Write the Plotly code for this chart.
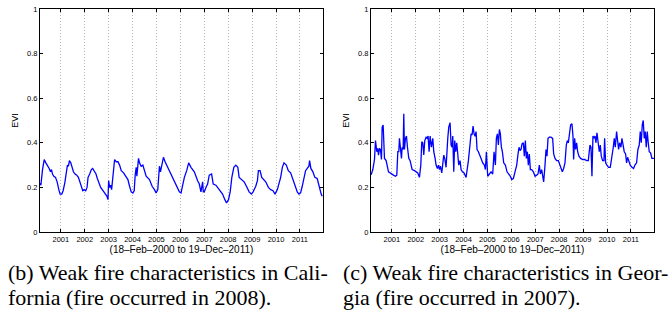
import plotly.graph_objects as go

# ---- data (decimal year, EVI) ----
ca_t = [2000.125, 2000.167, 2000.236, 2000.306, 2000.375, 2000.444, 2000.514, 2000.569, 2000.611, 2000.653,
        2000.708, 2000.778, 2000.847, 2000.917, 2000.972, 2001.042, 2001.097, 2001.167, 2001.236, 2001.278,
        2001.319, 2001.361, 2001.417, 2001.472, 2001.528, 2001.597, 2001.667, 2001.736, 2001.806, 2001.861,
        2001.917, 2001.972, 2002.042, 2002.097, 2002.139, 2002.208, 2002.278, 2002.333, 2002.403, 2002.472,
        2002.528, 2002.597, 2002.667, 2002.764, 2002.861, 2002.931, 2002.972, 2003.000, 2003.042, 2003.083,
        2003.125, 2003.181, 2003.250, 2003.319, 2003.389, 2003.458, 2003.528, 2003.625, 2003.708, 2003.806,
        2003.875, 2003.944, 2004.014, 2004.069, 2004.111, 2004.153, 2004.181, 2004.250, 2004.292, 2004.361,
        2004.431, 2004.500, 2004.569, 2004.708, 2004.819, 2004.917, 2004.986, 2005.056, 2005.097, 2005.125,
        2005.167, 2005.222, 2005.292, 2005.361, 2005.472, 2005.611, 2005.750, 2005.889, 2005.958, 2006.028,
        2006.097, 2006.167, 2006.264, 2006.347, 2006.444, 2006.583, 2006.722, 2006.792, 2006.861, 2006.889,
        2006.931, 2006.958, 2007.000, 2007.069, 2007.139, 2007.208, 2007.306, 2007.375, 2007.486, 2007.625,
        2007.764, 2007.861, 2007.931, 2008.014, 2008.083, 2008.153, 2008.236, 2008.319, 2008.403, 2008.458,
        2008.569, 2008.667, 2008.764, 2008.875, 2008.972, 2009.042, 2009.153, 2009.222, 2009.264, 2009.333,
        2009.403, 2009.500, 2009.569, 2009.681, 2009.778, 2009.875, 2009.958, 2010.056, 2010.125, 2010.194,
        2010.264, 2010.333, 2010.431, 2010.514, 2010.611, 2010.708, 2010.792, 2010.889, 2010.958, 2011.028,
        2011.097, 2011.167, 2011.236, 2011.306, 2011.375, 2011.403, 2011.458, 2011.542, 2011.625, 2011.722,
        2011.764, 2011.819, 2011.889, 2011.931]
ca_evi = [0.22, 0.21, 0.28, 0.325, 0.31, 0.30, 0.285, 0.27, 0.28, 0.26,
          0.25, 0.245, 0.225, 0.19, 0.17, 0.17, 0.185, 0.22, 0.26, 0.30,
          0.295, 0.32, 0.31, 0.285, 0.27, 0.26, 0.255, 0.245, 0.225, 0.20,
          0.185, 0.19, 0.185, 0.20, 0.245, 0.26, 0.28, 0.285, 0.275, 0.26,
          0.24, 0.22, 0.20, 0.185, 0.17, 0.16, 0.145, 0.23, 0.20, 0.21,
          0.19, 0.265, 0.325, 0.315, 0.315, 0.30, 0.275, 0.265, 0.25, 0.235,
          0.205, 0.18, 0.175, 0.185, 0.255, 0.29, 0.25, 0.33, 0.31, 0.295,
          0.30, 0.27, 0.25, 0.235, 0.205, 0.19, 0.175, 0.19, 0.245, 0.295,
          0.27, 0.30, 0.335, 0.315, 0.29, 0.26, 0.23, 0.195, 0.18, 0.175,
          0.215, 0.245, 0.275, 0.31, 0.29, 0.27, 0.23, 0.215, 0.18, 0.195,
          0.225, 0.18, 0.18, 0.20, 0.215, 0.255, 0.26, 0.215, 0.21, 0.19,
          0.17, 0.145, 0.13, 0.145, 0.18, 0.245, 0.29, 0.30, 0.29, 0.245,
          0.235, 0.225, 0.205, 0.18, 0.17, 0.18, 0.205, 0.23, 0.275, 0.275,
          0.245, 0.235, 0.225, 0.20, 0.19, 0.185, 0.17, 0.19, 0.22, 0.245,
          0.29, 0.31, 0.30, 0.275, 0.265, 0.235, 0.20, 0.18, 0.17, 0.175,
          0.205, 0.235, 0.275, 0.285, 0.295, 0.32, 0.285, 0.27, 0.245, 0.24,
          0.22, 0.195, 0.17, 0.16]

ga_t = [2000.136, 2000.206, 2000.276, 2000.318, 2000.373, 2000.415, 2000.443, 2000.485, 2000.526, 2000.568,
        2000.596, 2000.638, 2000.694, 2000.763, 2000.861, 2000.972, 2001.070, 2001.153, 2001.209, 2001.251,
        2001.292, 2001.320, 2001.362, 2001.404, 2001.432, 2001.474, 2001.501, 2001.529, 2001.571, 2001.613,
        2001.655, 2001.710, 2001.766, 2001.850, 2001.947, 2002.017, 2002.086, 2002.156, 2002.212, 2002.253,
        2002.295, 2002.337, 2002.379, 2002.435, 2002.476, 2002.518, 2002.560, 2002.602, 2002.657, 2002.713,
        2002.755, 2002.811, 2002.852, 2002.908, 2002.950, 2002.992, 2003.033, 2003.089, 2003.131, 2003.173,
        2003.214, 2003.270, 2003.340, 2003.382, 2003.437, 2003.479, 2003.521, 2003.549, 2003.591, 2003.632,
        2003.674, 2003.716, 2003.758, 2003.799, 2003.855, 2003.897, 2003.953, 2004.022, 2004.106, 2004.162,
        2004.203, 2004.259, 2004.315, 2004.357, 2004.398, 2004.440, 2004.482, 2004.524, 2004.565, 2004.621,
        2004.663, 2004.733, 2004.802, 2004.872, 2004.914, 2004.955, 2005.011, 2005.081, 2005.150, 2005.220,
        2005.276, 2005.332, 2005.373, 2005.415, 2005.457, 2005.499, 2005.540, 2005.582, 2005.624, 2005.680,
        2005.749, 2005.819, 2005.889, 2005.958, 2006.014, 2006.084, 2006.153, 2006.223, 2006.279, 2006.320,
        2006.362, 2006.404, 2006.446, 2006.501, 2006.543, 2006.585, 2006.627, 2006.669, 2006.710, 2006.752,
        2006.794, 2006.850, 2006.919, 2006.989, 2007.058, 2007.114, 2007.170, 2007.212, 2007.267, 2007.309,
        2007.351, 2007.407, 2007.448, 2007.490, 2007.532, 2007.588, 2007.657, 2007.727, 2007.769, 2007.825,
        2007.894, 2007.964, 2008.020, 2008.075, 2008.131, 2008.187, 2008.242, 2008.298, 2008.340, 2008.382,
        2008.423, 2008.479, 2008.535, 2008.577, 2008.604, 2008.646, 2008.688, 2008.730, 2008.772, 2008.827,
        2008.897, 2008.981, 2009.064, 2009.148, 2009.217, 2009.287, 2009.329, 2009.370, 2009.412, 2009.454,
        2009.496, 2009.538, 2009.579, 2009.621, 2009.677, 2009.719, 2009.760, 2009.816, 2009.872, 2009.900,
        2009.942, 2009.997, 2010.067, 2010.136, 2010.206, 2010.262, 2010.304, 2010.345, 2010.401, 2010.443,
        2010.485, 2010.526, 2010.582, 2010.624, 2010.666, 2010.721, 2010.777, 2010.819, 2010.861, 2010.903,
        2010.972, 2011.042, 2011.111, 2011.167, 2011.237, 2011.292, 2011.348, 2011.390, 2011.432, 2011.474,
        2011.515, 2011.557, 2011.599, 2011.641, 2011.682, 2011.724, 2011.766, 2011.822, 2011.877, 2011.965]
ga_evi = [0.257, 0.28, 0.325, 0.41, 0.36, 0.375, 0.345, 0.375, 0.37, 0.325,
          0.47, 0.48, 0.33, 0.32, 0.27, 0.26, 0.255, 0.25, 0.255, 0.36,
          0.36, 0.42, 0.38, 0.33, 0.38, 0.37, 0.53, 0.37, 0.42, 0.43,
          0.38, 0.33, 0.32, 0.28, 0.275, 0.27, 0.265, 0.245, 0.30, 0.405,
          0.40, 0.345, 0.41, 0.425, 0.42, 0.43, 0.36, 0.43, 0.38, 0.42,
          0.36, 0.33, 0.30, 0.285, 0.30, 0.28, 0.295, 0.265, 0.30, 0.345,
          0.33, 0.29, 0.42, 0.47, 0.49, 0.39, 0.38, 0.43, 0.27, 0.41,
          0.36, 0.40, 0.35, 0.30, 0.32, 0.28, 0.27, 0.265, 0.245, 0.28,
          0.32, 0.38, 0.44, 0.435, 0.475, 0.44, 0.43, 0.45, 0.37, 0.36,
          0.345, 0.33, 0.31, 0.30, 0.28, 0.36, 0.25, 0.26, 0.27, 0.26,
          0.36, 0.30, 0.42, 0.44, 0.39, 0.46, 0.44, 0.38, 0.36, 0.31,
          0.30, 0.27, 0.26, 0.25, 0.235, 0.24, 0.27, 0.30, 0.35, 0.38,
          0.365, 0.37, 0.395, 0.40, 0.34, 0.41, 0.33, 0.36, 0.30, 0.35,
          0.28, 0.28, 0.27, 0.25, 0.255, 0.26, 0.30, 0.26, 0.28, 0.25,
          0.225, 0.30, 0.37, 0.34, 0.42, 0.425, 0.425, 0.42, 0.35, 0.33,
          0.32, 0.32, 0.30, 0.29, 0.27, 0.285, 0.31, 0.39, 0.41, 0.40,
          0.44, 0.48, 0.485, 0.43, 0.325, 0.42, 0.37, 0.40, 0.36, 0.34,
          0.33, 0.325, 0.325, 0.32, 0.32, 0.39, 0.38, 0.25, 0.43, 0.42,
          0.43, 0.40, 0.445, 0.41, 0.36, 0.39, 0.34, 0.32, 0.32, 0.42,
          0.31, 0.30, 0.29, 0.29, 0.33, 0.38, 0.42, 0.38, 0.45, 0.40,
          0.37, 0.40, 0.38, 0.42, 0.385, 0.36, 0.35, 0.31, 0.335, 0.32,
          0.30, 0.29, 0.285, 0.30, 0.31, 0.37, 0.39, 0.45, 0.40, 0.48,
          0.50, 0.42, 0.45, 0.38, 0.45, 0.40, 0.36, 0.355, 0.33, 0.33]

year_ticks = [2001, 2002, 2003, 2004, 2005, 2006, 2007, 2008, 2009, 2010, 2011]
year_labels = [str(y) for y in year_ticks]
evi_ticks = [0, 0.2, 0.4, 0.6, 0.8, 1]
evi_labels = ["0", "0.2", "0.4", "0.6", "0.8", "1"]
x_range = [2000.13, 2011.965]
x_title = "(18–Feb–2000 to 19–Dec–2011)"
captions = [
    ["(b) Weak fire characteristics in Cali-", "fornia (fire occurred in 2008)."],
    ["(c) Weak fire characteristics in Geor-", "gia (fire occurred in 2007)."],
]

W, H = 672, 314
fig = go.Figure()
fig.add_trace(go.Scatter(x=ca_t, y=ca_evi, mode="lines", line=dict(color="#0000ff", width=1.3),
                         xaxis="x", yaxis="y", showlegend=False))
fig.add_trace(go.Scatter(x=ga_t, y=ga_evi, mode="lines", line=dict(color="#0000ff", width=1.3),
                         xaxis="x2", yaxis="y2", showlegend=False))

sans = "Liberation Sans, Arial, sans-serif"
def xax(domain, anchor):
    return dict(domain=domain, anchor=anchor, range=x_range, tickmode="array", tickvals=year_ticks,
                ticktext=year_labels, automargin=False,
                showline=True, linecolor="black", linewidth=1, mirror="ticks", ticks="inside", ticklen=3,
                tickcolor="black", tickfont=dict(family=sans, size=7.5, color="black"),
                showgrid=True, gridcolor="#b4b4b4", gridwidth=1, griddash="1px,2px", zeroline=False,
                title=dict(text=x_title, font=dict(family=sans, size=10, color="black"), standoff=1))

def yax(domain, anchor):
    return dict(domain=domain, anchor=anchor, range=[0, 1], tickmode="array", tickvals=evi_ticks,
                ticktext=evi_labels, automargin=False, showline=True, linecolor="black", linewidth=1,
                mirror="ticks", ticks="inside", ticklen=3, tickcolor="black",
                tickfont=dict(family=sans, size=7.5, color="black"), showgrid=False, zeroline=False,
                title=dict(text="EVI", font=dict(family=sans, size=9, color="black"), standoff=6))

ydom = [(H - 232) / H, (H - 9) / H]
fig.update_layout(
    width=W, height=H, margin=dict(l=0, r=0, t=0, b=0, autoexpand=False),
    paper_bgcolor="white", plot_bgcolor="white",
    xaxis=xax([40 / W, 323 / W], "y"),
    yaxis=yax(ydom, "x"),
    xaxis2=xax([371 / W, 654 / W], "y2"),
    yaxis2=yax(ydom, "x2"),
)

serif = "Liberation Serif, Times New Roman, serif"
for i, xpos in enumerate([6, 341]):
    for j, ypos in enumerate([272, 297]):
        fig.add_annotation(text=captions[i][j], xref="paper", yref="paper", x=xpos / W, y=(H - ypos) / H,
                           xanchor="left", yanchor="middle", showarrow=False,
                           font=dict(family=serif, size=22, color="black"))

fig.write_html("out.html", config={"displayModeBar": False},
               post_script="document.body.style.margin='0';document.body.style.padding='0';"
                           "document.documentElement.style.overflow='hidden';")
